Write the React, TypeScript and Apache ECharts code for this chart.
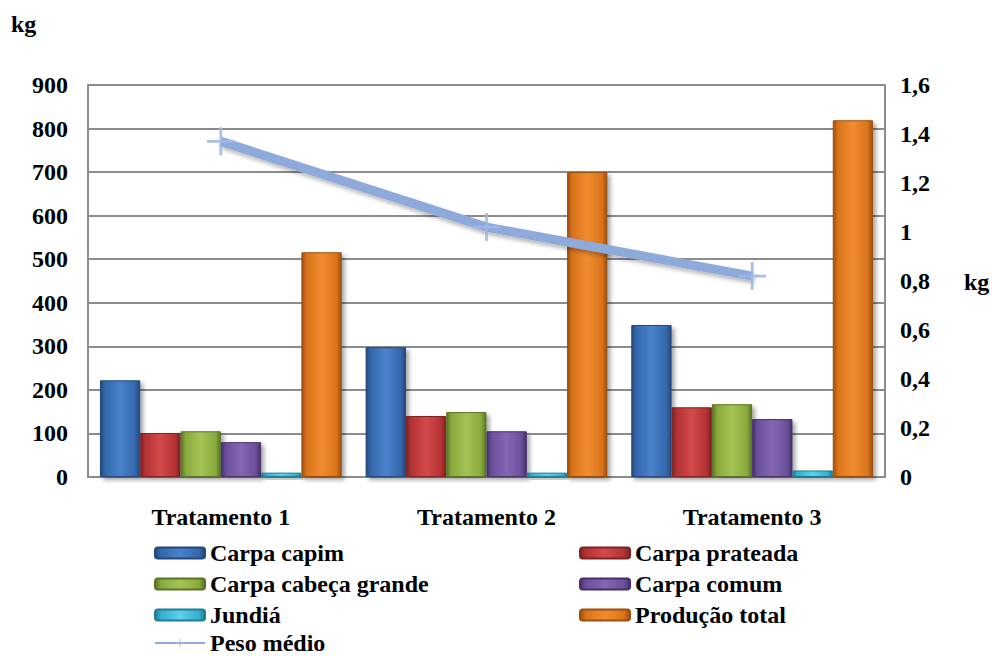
import React, { useEffect, useRef } from "react";
import * as echarts from "echarts";

const categories = ["Tratamento 1", "Tratamento 2", "Tratamento 3"];
const carpaCapim = [222, 298, 349];
const carpaPrateada = [101, 140, 160];
const carpaCabecaGrande = [105, 149, 167];
const carpaComum = [80, 105, 133];
const jundia = [10, 10, 15];
const producaoTotal = [516, 700, 819];
const pesoMedio = [1.37, 1.02, 0.82];

const leftTicks = { min: 0, max: 900, interval: 100 };
const rightTicks = { min: 0, max: 1.6, interval: 0.2 };

const FONT = "Liberation Serif, Times New Roman, serif";
const FS = 24;

function bevel(dark: string, mid: string, light: string) {
  return new echarts.graphic.LinearGradient(0, 0, 1, 0, [
    { offset: 0, color: dark },
    { offset: 0.12, color: mid },
    { offset: 0.5, color: light },
    { offset: 0.88, color: mid },
    { offset: 1, color: dark },
  ]);
}

const crossPath = "path://M9,0 h2 v9 h9 v2 h-9 v9 h-2 v-9 h-9 v-2 h9 z";

export default function App() {
  const ref = useRef<HTMLDivElement>(null);
  useEffect(() => {
    if (!ref.current) return;
    const chart = echarts.init(ref.current, null, { renderer: "svg" });
    const barStyle = (dark: string, mid: string, light: string) => ({
      color: bevel(dark, mid, light),
      borderColor: dark,
      borderWidth: 1,
      shadowBlur: 4,
      shadowOffsetX: 3,
      shadowOffsetY: 3,
      shadowColor: "rgba(0,0,0,0.35)",
    });
    const mkBar = (name: string, data: number[], st: any) => ({
      name,
      type: "bar",
      data,
      yAxisIndex: 0,
      barGap: "0%",
      barCategoryGap: "9%",
      itemStyle: st,
    });
    const legendText = { fontFamily: FONT, fontWeight: "bold", fontSize: FS, color: "#000" };
    const legendBase = {
      orient: "vertical",
      itemWidth: 50,
      itemHeight: 11,
      itemGap: 7,
      padding: 0,
      textStyle: legendText,
    };
    const lbl = { fontFamily: FONT, fontWeight: "bold", fontSize: FS, color: "#000" };
    chart.setOption({
      animation: false,
      textStyle: { fontFamily: FONT },
      grid: { left: 88, right: 107, top: 85, bottom: 179, containLabel: false },
      legend: [
        { ...legendBase, left: 154, top: 541, data: ["Carpa capim", "Carpa cabeça grande", "Jundiá"] },
        { ...legendBase, left: 579, top: 541, data: ["Carpa prateada", "Carpa comum", "Produção total"] },
        { ...legendBase, left: 154, top: 631, data: ["Peso médio"] },
      ],
      xAxis: {
        type: "category",
        data: categories,
        axisLine: { show: true, lineStyle: { color: "#8c8c8c", width: 2 } },
        axisTick: { show: false },
        axisLabel: { margin: 28, ...lbl },
      },
      yAxis: [
        {
          type: "value",
          min: leftTicks.min,
          max: leftTicks.max,
          interval: leftTicks.interval,
          axisLine: { show: true, lineStyle: { color: "#8c8c8c", width: 2 } },
          axisTick: { show: false },
          splitLine: { show: true, lineStyle: { color: "#8c8c8c", width: 2 } },
          axisLabel: { margin: 20, ...lbl },
        },
        {
          type: "value",
          min: rightTicks.min,
          max: rightTicks.max,
          interval: rightTicks.interval,
          position: "right",
          axisLine: { show: true, lineStyle: { color: "#8c8c8c", width: 2 } },
          axisTick: { show: false },
          splitLine: { show: false },
          axisLabel: {
            margin: 15,
            ...lbl,
            formatter: (v: number) => String(+v.toFixed(1)).replace(".", ","),
          },
        },
      ],
      graphic: [
        {
          type: "text",
          left: 11,
          top: 12,
          style: { text: "kg", fontFamily: FONT, fontWeight: "bold", fontSize: FS, fill: "#000" },
        },
        {
          type: "text",
          left: 964,
          top: 270,
          style: { text: "kg", fontFamily: FONT, fontWeight: "bold", fontSize: FS, fill: "#000" },
        },
      ],
      series: [
        mkBar("Carpa capim", carpaCapim, barStyle("#24497d", "#3467ab", "#4a83cc")),
        mkBar("Carpa prateada", carpaPrateada, barStyle("#7e2224", "#b33234", "#d44a4a")),
        mkBar("Carpa cabeça grande", carpaCabecaGrande, barStyle("#5a7426", "#88a93c", "#a3c455")),
        mkBar("Carpa comum", carpaComum, barStyle("#45306b", "#6a4f9a", "#8467b5")),
        mkBar("Jundiá", jundia, barStyle("#1f7e96", "#35aed0", "#5fd0ec")),
        mkBar("Produção total", producaoTotal, barStyle("#9c4f10", "#d9731c", "#f08d30")),
        {
          name: "Peso médio",
          type: "line",
          yAxisIndex: 1,
          data: pesoMedio,
          symbol: crossPath,
          symbolSize: 28,
          lineStyle: {
            color: "#8eaadb",
            width: 9,
            shadowBlur: 4,
            shadowOffsetX: 2,
            shadowOffsetY: 3,
            shadowColor: "rgba(0,0,0,0.3)",
          },
          itemStyle: { color: "#9fb8e4", opacity: 0.9 },
          z: 5,
        },
      ],
    });
    return () => chart.dispose();
  }, []);
  return (
    <div
      ref={ref}
      style={{ position: "absolute", left: 0, top: 0, width: 992, height: 656 }}
    />
  );
}
